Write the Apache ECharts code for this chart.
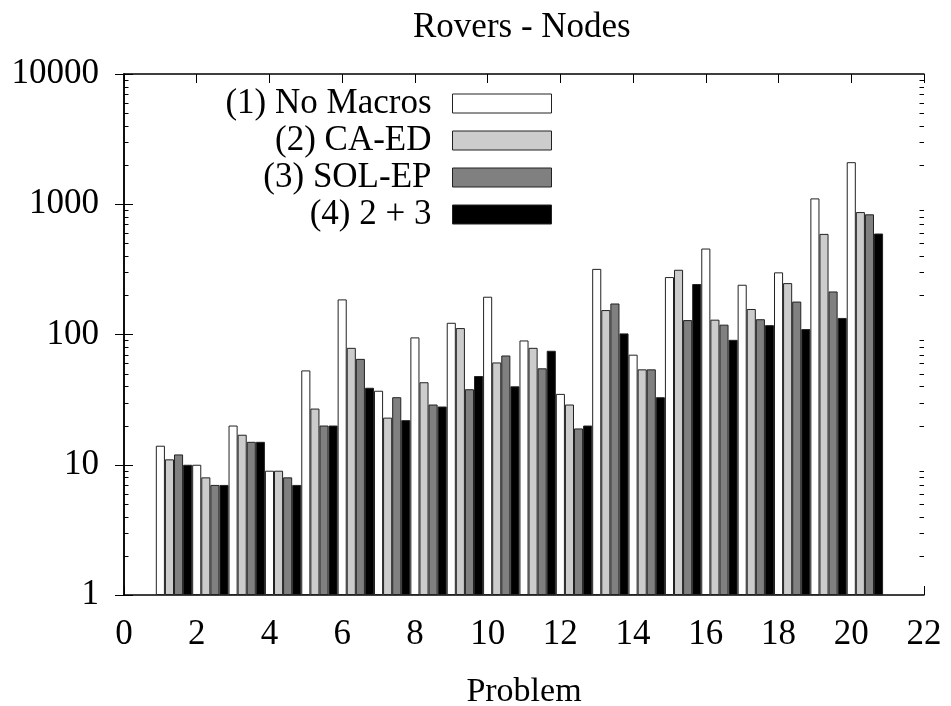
<!DOCTYPE html>
<html>
<head>
<meta charset="utf-8">
<script src="https://cdn.jsdelivr.net/npm/echarts@6/dist/echarts.min.js"></script>
<style>
html,body{margin:0;padding:0;background:#fff;}
#chart{width:951px;height:706px;}
</style>
</head>
<body>
<div id="chart"></div>
<script>
// ---- data ----
const problems = [1,2,3,4,5,6,7,8,9,10,11,12,13,14,15,16,17,18,19,20];
const seriesNames = ['(1) No Macros', '(2) CA-ED', '(3) SOL-EP', '(4) 2 + 3'];
const noMacros = [14, 10, 20, 9, 53, 186, 37, 95, 123, 195, 90, 35, 319, 70, 276, 457, 241, 300, 1109, 2104];
const caEd     = [11, 8, 17, 9, 27, 79, 23, 43, 112, 61, 79, 29, 154, 54, 314, 130, 157, 248, 592, 871];
const solEp    = [12, 7, 15, 8, 20, 65, 33, 29, 38, 69, 55, 19, 173, 54, 129, 119, 131, 179, 214, 837];
const combo    = [10, 7, 15, 7, 20, 39, 22, 28, 48, 40, 75, 20, 102, 33, 244, 91, 118, 110, 134, 596];
const xTicks = [0, 22, 2];      // min, max, interval
const yRange = [1, 10000];

// ---- style ----
const FONT = 'Liberation Serif';
const colors = ['#ffffff', '#cccccc', '#808080', '#000000'];
const grid = {left: 124, right: 27, top: 74, bottom: 111, containLabel: false, outerBoundsMode: 'none'};
const plotW = 951 - grid.left - grid.right;
const unitPx = plotW / (xTicks[1] - xTicks[0]);
const barW = unitPx * 0.25;
const groupShift = 0.375; // group of 4 bars starts at the problem number

const chart = echarts.init(document.getElementById('chart'), null, {renderer: 'canvas'});
const allData = [noMacros, caEd, solEp, combo];

const series = allData.map((vals, i) => ({
  name: seriesNames[i],
  type: 'bar',
  barWidth: barW,
  barGap: '0%',
  data: problems.map((p, k) => [p + groupShift, vals[k]]),
  itemStyle: {color: colors[i], borderColor: '#222', borderWidth: 1},
  emphasis: {disabled: true},
  animation: false
}));

const axisLineStyle = {lineStyle: {color: '#000', width: 1.5}};
chart.setOption({
  animation: false,
  title: {
    text: 'Rovers - Nodes',
    left: 408, top: 5,
    textStyle: {fontFamily: FONT, fontSize: 35, fontWeight: 'normal', color: '#000'}
  },
  legend: {
    orient: 'vertical',
    align: 'right',
    right: 399,
    top: 86,
    padding: 0,
    itemWidth: 99,
    itemHeight: 19,
    itemGap: 2,
    icon: 'rect',
    selectedMode: false,
    formatter: n => '{a|' + n + '}',
    textStyle: {
      rich: {a: {fontFamily: FONT, fontSize: 35, color: '#000', width: 235, align: 'right', lineHeight: 30, padding: [0, 16, 0, 0]}}
    },
    itemStyle: {borderColor: '#222', borderWidth: 1},
    data: seriesNames
  },
  grid: grid,
  xAxis: [{
    type: 'value', min: xTicks[0], max: xTicks[1], interval: xTicks[2],
    name: 'Problem', nameLocation: 'middle', nameGap: 80,
    nameTextStyle: {fontFamily: FONT, fontSize: 34, color: '#000'},
    axisLine: axisLineStyle,
    axisTick: {inside: true, length: 9, lineStyle: {color: '#000', width: 1}},
    axisLabel: {fontFamily: FONT, fontSize: 35, color: '#000', margin: 22},
    splitLine: {show: false}
  }, {
    type: 'value', position: 'top', min: xTicks[0], max: xTicks[1], interval: xTicks[2],
    axisLine: axisLineStyle,
    axisTick: {inside: true, length: 9, lineStyle: {color: '#000', width: 1}},
    axisLabel: {show: false},
    splitLine: {show: false}
  }],
  yAxis: [{
    type: 'log', logBase: 10, min: yRange[0], max: yRange[1],
    axisLine: {show: true, lineStyle: {color: '#000', width: 1.5}},
    axisTick: {inside: true, length: 9, lineStyle: {color: '#000', width: 1}},
    axisLabel: {fontFamily: FONT, fontSize: 35, color: '#000', margin: 25, formatter: v => String(Math.round(v))},
    splitLine: {show: false}
  }, {
    type: 'log', logBase: 10, min: yRange[0], max: yRange[1], position: 'right',
    axisLine: {show: true, lineStyle: {color: '#000', width: 1.5}},
    axisTick: {inside: true, length: 9, lineStyle: {color: '#000', width: 1}},
    axisLabel: {show: false},
    splitLine: {show: false}
  }],
  series: series
});

// minor log ticks (2..9 of each decade) on left and right axes
const xl = chart.convertToPixel({xAxisIndex: 0}, xTicks[0]);
const xr = chart.convertToPixel({xAxisIndex: 0}, xTicks[1]);
const minor = [];
for (let d = yRange[0]; d < yRange[1]; d *= 10) {
  for (let m = 2; m <= 9; m++) {
    const y = Math.round(chart.convertToPixel({yAxisIndex: 0}, d * m)) + 0.5;
    minor.push({type: 'line', shape: {x1: xl, y1: y, x2: xl + 4.5, y2: y}, style: {stroke: '#000', lineWidth: 1}, silent: true});
    minor.push({type: 'line', shape: {x1: xr - 4.5, y1: y, x2: xr, y2: y}, style: {stroke: '#000', lineWidth: 1}, silent: true});
  }
}
chart.setOption({graphic: minor});
</script>
</body>
</html>
